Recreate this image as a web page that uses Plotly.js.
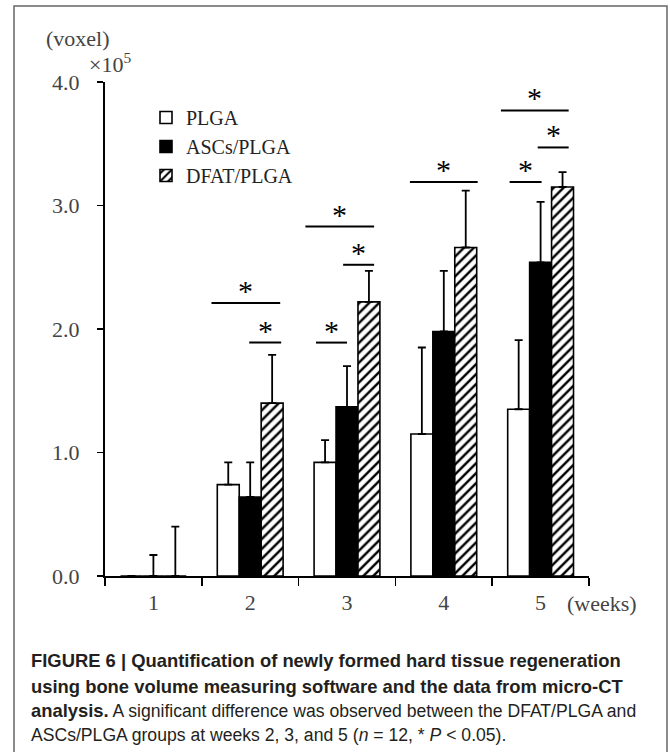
<!DOCTYPE html>
<html>
<head>
<meta charset="utf-8">
<script src="https://cdn.plot.ly/plotly-3.0.1.min.js"></script>
<style>html,body{margin:0;padding:0;background:#fff;}#chart{width:670px;height:752px;}</style>
</head>
<body>
<div id="chart"></div>
<script>
// ---- data (values in units of 10^5 voxel) ----
const weeks = ['1', '2', '3', '4', '5'];
const seriesNames = ['PLGA', 'ASCs/PLGA', 'DFAT/PLGA'];
const plga = [0, 0.74, 0.92, 1.15, 1.35];
const plgaErr = [0, 0.18, 0.18, 0.70, 0.56];
const ascs = [0, 0.64, 1.37, 1.98, 2.54];
const ascsErr = [0.17, 0.28, 0.33, 0.49, 0.49];
const dfat = [0, 1.40, 2.22, 2.66, 3.15];
const dfatErr = [0.40, 0.39, 0.25, 0.46, 0.12];
const yTickVals = [0, 1, 2, 3, 4];
const yTickText = ['0.0', '1.0', '2.0', '3.0', '4.0'];
// significance brackets: week index, left/right offset (category units), level
const brWeek = [1, 1, 2, 2, 2, 3, 4, 4, 4];
const brX0 = [-0.40, -0.01, -0.43, -0.04, -0.32, -0.35, -0.41, -0.03, -0.32];
const brX1 = [0.31, 0.32, 0.28, 0.28, 0.00, 0.35, 0.29, 0.29, 0.01];
const brY = [2.21, 1.89, 2.83, 2.52, 1.89, 3.19, 3.77, 3.47, 3.19];
const B1 = s => '<span style="font-size:18.4px"><b>' + s + '</b></span>';
const captionLines = [
  B1('FIGURE 6 | Quantification of newly formed hard tissue regeneration'),
  B1('using bone volume measuring software and the data from micro-CT'),
  B1('analysis.') + ' A significant difference was observed between the DFAT/PLGA and',
  'ASCs/PLGA groups at weeks 2, 3, and 5 (<i>n</i> = 12, * <i>P</i> &lt; 0.05).'
];

// ---- geometry helpers ----
const W = 670, H = 752;
const L = 105, R = 589, T = 82, B = 576;
const px2x = p => (p - L) / (R - L);
const py2y = p => (B - p) / (B - T);
const serif = 'Liberation Serif, Times New Roman, serif';
const sans = 'Liberation Sans, Arial, Helvetica, sans-serif';

function errSpec(arr) {
  return {type: 'data', symmetric: false, array: arr, arrayminus: arr.map(() => 0),
          color: '#000', thickness: 1.8, width: 4};
}
const lineSpec = {color: '#000', width: 1.6};

const traces = [
  {type: 'bar', name: seriesNames[0], x: weeks, y: plga, error_y: errSpec(plgaErr),
   marker: {color: '#fff', line: lineSpec}},
  {type: 'bar', name: seriesNames[1], x: weeks, y: ascs, error_y: errSpec(ascsErr),
   marker: {color: '#000', line: lineSpec}},
  {type: 'bar', name: seriesNames[2], x: weeks, y: dfat, error_y: errSpec(dfatErr),
   marker: {color: '#fff', line: lineSpec,
            pattern: {shape: '/', bgcolor: '#fff', fgcolor: '#000', size: 7, solidity: 0.35, fillmode: 'replace'}}}
];

const shapes = [];
const annotations = [];
for (let i = 0; i < brWeek.length; i++) {
  const x0 = brWeek[i] + brX0[i], x1 = brWeek[i] + brX1[i];
  shapes.push({type: 'line', xref: 'x', yref: 'y', x0: x0, x1: x1, y0: brY[i], y1: brY[i],
               line: {color: '#000', width: 2}});
  annotations.push({xref: 'x', yref: 'y', x: (x0 + x1) / 2, y: brY[i], yanchor: 'bottom',
                    xanchor: 'center', text: '*', showarrow: false, yshift: -6,
                    font: {family: serif, size: 30, color: '#000'}});
}
// outer frame
shapes.push({type: 'rect', xref: 'paper', yref: 'paper', x0: px2x(14), x1: px2x(667),
             y0: py2y(770), y1: py2y(6), line: {color: '#666', width: 1.5}, layer: 'below'});

annotations.push({xref: 'paper', yref: 'paper', x: px2x(112), y: py2y(38), xanchor: 'right',
                  yanchor: 'middle', text: '(voxel)', showarrow: false,
                  font: {family: serif, size: 22, color: '#444'}});
annotations.push({xref: 'paper', yref: 'paper', x: px2x(87), y: py2y(63), xanchor: 'left',
                  yanchor: 'middle', text: '×10<sup>5</sup>', showarrow: false,
                  font: {family: serif, size: 22, color: '#444'}});
annotations.push({xref: 'paper', yref: 'paper', x: px2x(565), y: py2y(603), xanchor: 'left',
                  yanchor: 'middle', text: '(weeks)', showarrow: false,
                  font: {family: serif, size: 22, color: '#444'}});
const capY = [660, 686, 710, 735];
captionLines.forEach((t, i) => {
  annotations.push({xref: 'paper', yref: 'paper', x: px2x(29), y: py2y(capY[i]), xanchor: 'left',
                    yanchor: 'middle', align: 'left', text: t, showarrow: false,
                    font: {family: sans, size: 17.6, color: '#231f20'}});
});

const layout = {
  width: W, height: H,
  margin: {l: L, r: W - R, t: T, b: H - B, pad: 0},
  paper_bgcolor: '#fff', plot_bgcolor: '#fff',
  barmode: 'group', bargap: 0.32, bargroupgap: 0,
  showlegend: true,
  legend: {x: px2x(146), y: py2y(98), xanchor: 'left', yanchor: 'top', bgcolor: 'rgba(0,0,0,0)',
           font: {family: serif, size: 20, color: '#222'}, traceorder: 'normal', tracegroupgap: 0},
  xaxis: {type: 'category', range: [-0.5, 4.5], tickson: 'boundaries', ticks: 'outside', ticklen: 8,
          tickwidth: 1.5, tickcolor: '#000', showline: true, linecolor: '#000', linewidth: 2,
          showgrid: false, zeroline: false, fixedrange: true, ticklabelstandoff: 6,
          tickfont: {family: serif, size: 22, color: '#444'}},
  yaxis: {range: [0, 4], tickvals: yTickVals, ticktext: yTickText, ticks: 'outside', ticklen: 6,
          tickwidth: 1.5, tickcolor: '#000', showline: true, linecolor: '#000', linewidth: 2,
          showgrid: false, zeroline: false, ticklabelstandoff: 13,
          tickfont: {family: serif, size: 22, color: '#444'}},
  shapes: shapes,
  annotations: annotations
};

Plotly.newPlot('chart', traces, layout, {staticPlot: true, displayModeBar: false});
</script>
</body>
</html>
